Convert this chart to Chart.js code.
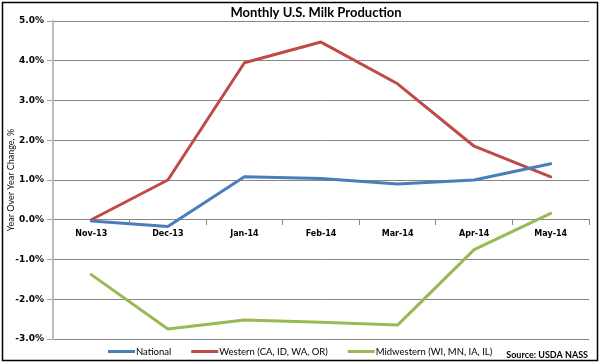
<!DOCTYPE html>
<html>
<head>
<meta charset="utf-8">
<script src="https://cdn.jsdelivr.net/npm/chart.js@4/dist/chart.umd.min.js"></script>
<style>
html,body{margin:0;padding:0;background:#fff;}
#wrap{width:600px;height:364px;position:relative;}
</style>
</head>
<body>
<div id="wrap"><canvas id="c" width="600" height="364"></canvas></div>
<script>
const categories = ['Nov-13','Dec-13','Jan-14','Feb-14','Mar-14','Apr-14','May-14'];
const national   = [-0.03, -0.17, 1.08, 1.04, 0.90, 1.00, 1.41];
const western    = [0.00, 1.00, 3.95, 4.47, 3.42, 1.85, 1.08];
const midwestern = [-1.38, -2.75, -2.52, -2.58, -2.65, -0.75, 0.16];
const seriesLabels = ['National', 'Western (CA, ID, WA, OR)', 'Midwestern (WI, MN, IA, IL)'];
const seriesColors = ['#4a7ebb', '#be4b48', '#98b954'];
const titleText = 'Monthly U.S. Milk Production';
const yTitleText = 'Year Over Year Change, %';
const sourceText = 'Source: USDA NASS';

const decor = {
  id: 'decor',
  beforeDraw(chart) {
    const ctx = chart.ctx;
    ctx.save();
    ctx.fillStyle = '#fff';
    ctx.fillRect(0, 0, chart.width, chart.height);
    ctx.restore();
  },
  afterDraw(chart) {
    const ctx = chart.ctx;
    const ca = chart.chartArea;
    ctx.save();
    // border
    ctx.strokeStyle = '#000';
    ctx.lineWidth = 1.5;
    ctx.strokeRect(2.5, 2.5, 595, 358);
    // title
    ctx.fillStyle = '#000';
    ctx.font = 'bold 13px Lato';
    ctx.textAlign = 'center';
    ctx.textBaseline = 'alphabetic';
    ctx.fillText(titleText, 316, 17);
    // y title
    ctx.save();
    ctx.translate(11, (ca.top + ca.bottom) / 2);
    ctx.rotate(-Math.PI / 2);
    ctx.font = '9px Lato';
    ctx.fillStyle = '#111';
    ctx.textAlign = 'center';
    ctx.textBaseline = 'middle';
    ctx.fillText(yTitleText, 0, 0);
    ctx.restore();
    // legend
    const ly = 351.5;
    let x = 108;
    ctx.font = '9.5px Lato';
    ctx.textAlign = 'left';
    ctx.textBaseline = 'middle';
    chart.data.datasets.forEach((ds) => {
      ctx.strokeStyle = ds.borderColor;
      ctx.lineWidth = 3;
      ctx.beginPath();
      ctx.moveTo(x, ly);
      ctx.lineTo(x + 27, ly);
      ctx.stroke();
      ctx.fillStyle = '#000';
      ctx.fillText(ds.label, x + 28, ly);
      x += 28 + ctx.measureText(ds.label).width + 20;
    });
    // source
    ctx.font = 'bold 9px Lato';
    ctx.textAlign = 'right';
    ctx.fillStyle = '#000';
    ctx.fillText(sourceText, 588, 355.5);
    ctx.restore();
  }
};

new Chart(document.getElementById('c'), {
  type: 'line',
  data: {
    labels: categories,
    datasets: [
      { label: seriesLabels[0], data: national, borderColor: seriesColors[0] },
      { label: seriesLabels[1], data: western, borderColor: seriesColors[1] },
      { label: seriesLabels[2], data: midwestern, borderColor: seriesColors[2] }
    ]
  },
  options: {
    responsive: false,
    animation: false,
    devicePixelRatio: 1,
    layout: { padding: { top: 21, right: 11, bottom: 25, left: 0 } },
    elements: {
      line: { borderWidth: 3, tension: 0, borderCapStyle: 'round', borderJoinStyle: 'round' },
      point: { radius: 0, hoverRadius: 0 }
    },
    plugins: {
      legend: { display: false },
      title: { display: false },
      tooltip: { enabled: false }
    },
    scales: {
      x: {
        type: 'category',
        position: { y: 0 },
        offset: true,
        grid: { offset: true, drawOnChartArea: false, tickLength: 5, color: '#868686' },
        border: { color: '#868686', width: 1 },
        ticks: { font: { family: 'DejaVu Sans', weight: 'bold', size: 8 }, color: '#000', padding: 4, maxRotation: 0, autoSkip: false }
      },
      y: {
        min: -3, max: 5,
        afterFit(scale) { scale.width = 53; },
        grid: { color: '#868686', tickLength: 6, tickColor: '#a0a0a0' },
        border: { color: '#bdbdbd', width: 2 },
        ticks: {
          stepSize: 1,
          font: { family: 'DejaVu Sans', weight: 'bold', size: 9 },
          color: '#000',
          padding: 3,
          callback: (v) => v.toFixed(1) + '%'
        }
      }
    }
  },
  plugins: [decor]
});
</script>
</body>
</html>
